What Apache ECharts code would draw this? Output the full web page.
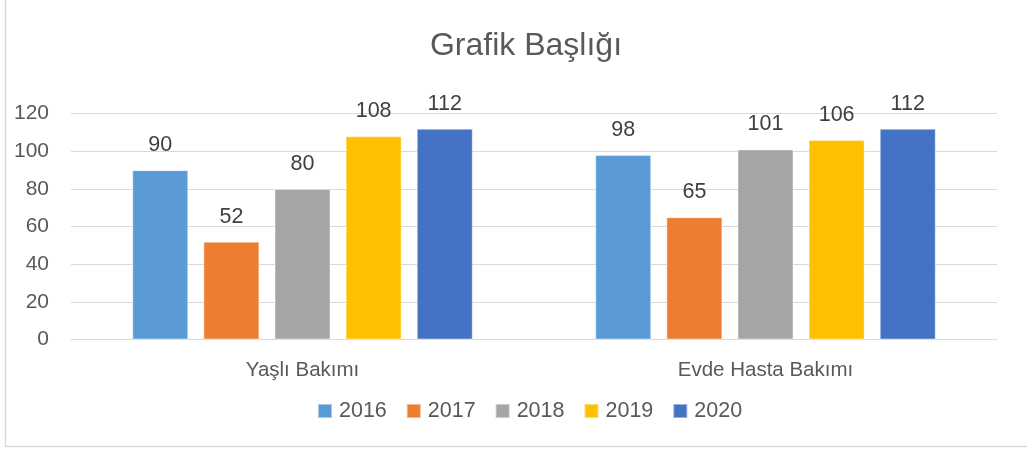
<!DOCTYPE html>
<html>
<head>
<meta charset="utf-8">
<script src="https://cdn.jsdelivr.net/npm/echarts@6/dist/echarts.min.js"></script>
<style>html,body{margin:0;padding:0;background:#fff}#c{width:1027px;height:450px}</style>
</head>
<body>
<div id="c"></div>
<script>
const categories = ['Yaşlı Bakımı', 'Evde Hasta Bakımı'];
const seriesNames = ['2016', '2017', '2018', '2019', '2020'];
const s2016 = [90, 98];
const s2017 = [52, 65];
const s2018 = [80, 101];
const s2019 = [108, 106];
const s2020 = [112, 112];
const colors = ['#5B9BD5', '#ED7D31', '#A5A5A5', '#FFC000', '#4472C4'];
const values = [s2016, s2017, s2018, s2019, s2020];
const FONT = 'Liberation Sans';

const chart = echarts.init(document.getElementById('c'), null, {renderer: 'canvas'});
chart.setOption({
  animation: false,
  backgroundColor: '#fff',
  textStyle: {fontFamily: FONT},
  title: {
    text: 'Grafik Başlığı',
    left: 521, textAlign: 'center', top: 25,
    textStyle: {fontFamily: FONT, fontSize: 32, fontWeight: 'normal', color: '#595959'}
  },
  graphic: [{
    type: 'rect', silent: true, z: -1,
    shape: {x: 5.5, y: -5, width: 1040, height: 451.5},
    style: {fill: 'none', stroke: '#d9d9d9', lineWidth: 1.5}
  }],
  legend: {
    data: seriesNames,
    left: 317, top: 400, padding: 0,
    itemWidth: 14, itemHeight: 14, itemGap: 19,
    icon: 'rect',
    textStyle: {fontFamily: FONT, fontSize: 21.5, color: '#595959', padding: [0, 0, 0, 2]}
  },
  grid: {left: 71, right: 30, top: 113.7, bottom: 110.5, containLabel: false},
  xAxis: {
    type: 'category', data: categories,
    axisLine: {lineStyle: {color: '#d9d9d9', width: 1}},
    axisTick: {show: false},
    axisLabel: {fontFamily: FONT, fontSize: 20.5, color: '#595959', margin: 20}
  },
  yAxis: {
    type: 'value', min: 0, max: 120, interval: 20,
    axisLine: {show: false}, axisTick: {show: false},
    splitLine: {lineStyle: {color: '#d9d9d9', width: 1}},
    axisLabel: {fontFamily: FONT, fontSize: 21, color: '#595959', margin: 22}
  },
  series: seriesNames.map((n, i) => ({
    name: n, type: 'bar', data: values[i],
    barWidth: 56, barGap: '27%',
    itemStyle: {color: colors[i], borderColor: 'rgba(255,255,255,0.45)', borderWidth: 1},
    label: {show: true, position: 'top', distance: 14, fontFamily: FONT, fontSize: 21.5, color: '#404040'}
  }))
});
</script>
</body>
</html>
